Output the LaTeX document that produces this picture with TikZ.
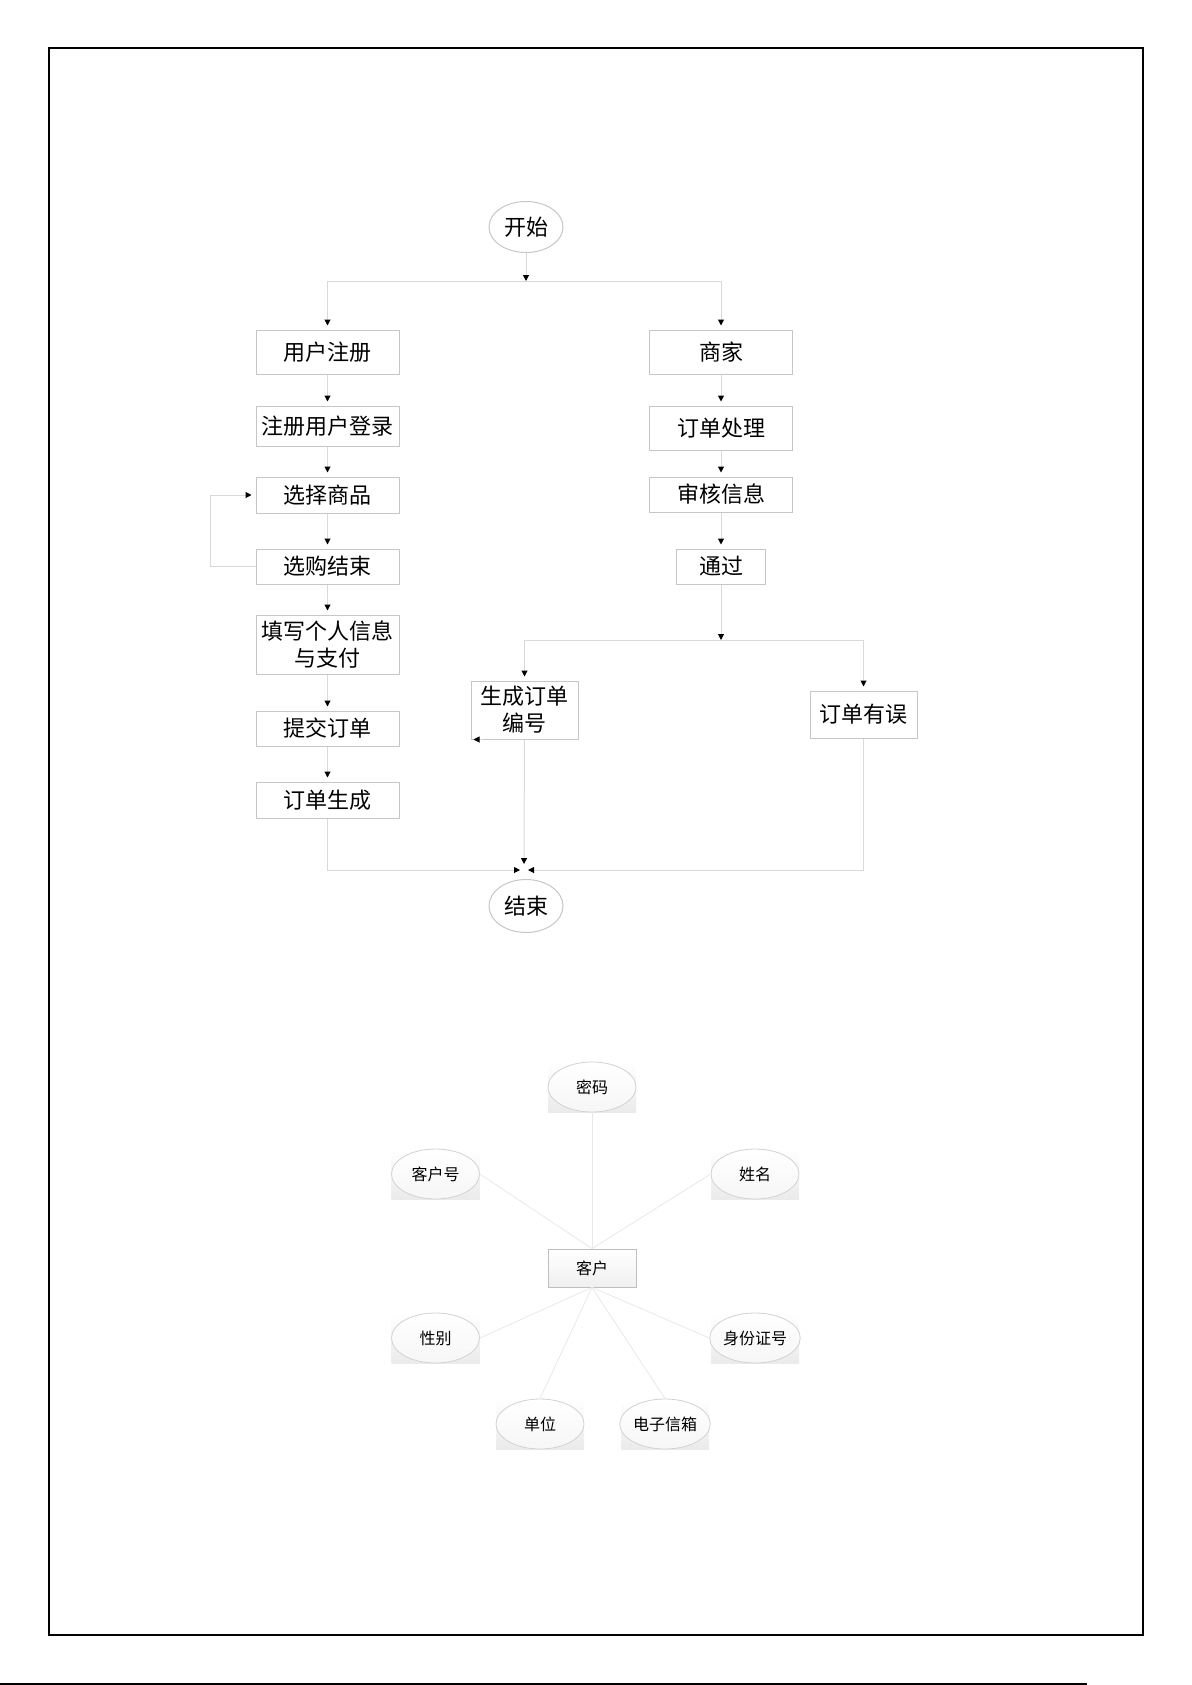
\documentclass[tikz,border=0pt]{standalone}
\usepackage{fontspec}
\newfontfamily\cjk{Noto Sans CJK SC}
\usepackage{tikz}
\usetikzlibrary{arrows.meta,shapes.geometric}

\begin{document}
\begin{tikzpicture}[x=0.5pt,y=-0.5pt,
  proc/.style={shape=rectangle,draw=gray!45,line width=0.5pt,minimum width=71.5pt,inner sep=1pt,align=center,font=\cjk\fontsize{11}{13.5}\selectfont},
  term/.style={shape=ellipse,draw=gray!45,line width=0.5pt,minimum width=37pt,inner sep=0pt,font=\cjk\fontsize{11}{13}\selectfont},
  flow/.style={draw=gray!30,line width=0.5pt,-{Triangle[color=black,length=3pt,width=3pt]},shorten >=2pt},
  attr/.style={shape=ellipse,draw=gray!35,line width=0.4pt,minimum width=44pt,minimum height=25pt,inner sep=0pt,top color=white,bottom color=gray!7,font=\cjk\fontsize{8}{10}\selectfont},
  attrbg/.style={shape=rectangle,minimum width=44pt,minimum height=25pt,inner sep=0pt,top color=white,bottom color=gray!16},
  ent/.style={shape=rectangle,draw=gray!50,line width=0.4pt,minimum width=44pt,minimum height=19pt,inner sep=0pt,top color=white,bottom color=gray!12,font=\cjk\fontsize{8}{10}\selectfont},
  erline/.style={draw=gray!18,line width=0.4pt}]
\useasboundingbox (0,0) rectangle (1192,1685);
\draw [line width=1pt] (48.5,48.5) rectangle (1142.5,1635);
\draw [line width=1pt] (0,1684) -- (1087,1684);

% flow chart
\path (526,227) node (start) [term,minimum height=25.5pt] {开始};
\coordinate (split) at (526,281);
\path (327.5,352) node (reg) [proc,minimum height=22pt] {用户注册};
\path (327.5,426) node (login) [proc,minimum height=20pt] {注册用户登录};
\path (327.5,495) node (select) [proc,minimum height=18pt] {选择商品};
\path (327.5,566.5) node (done) [proc,minimum height=17.5pt] {选购结束};
\path (327.5,644.5) node (fill) [proc,minimum height=29.5pt] {填写个人信息\\与支付};
\path (327.5,728.5) node (submit) [proc,minimum height=17.5pt] {提交订单};
\path (327.5,800) node (created) [proc,minimum height=18pt] {订单生成};
\path (721,352) node (shop) [proc,minimum height=22pt] {商家};
\path (721,428) node (handle) [proc,minimum height=22pt] {订单处理};
\path (721,494.5) node (check) [proc,minimum height=17.5pt] {审核信息};
\path (721,566.5) node (pass) [proc,minimum width=44.5pt,minimum height=17.5pt] {通过};
\coordinate (split2) at (721,640);
\path (524.5,710) node (gen) [proc,minimum width=53.5pt,minimum height=29pt] {生成订单\\编号};
\path (863.5,714.5) node (err) [proc,minimum width=53.5pt,minimum height=23.5pt] {订单有误};
\coordinate (merge) at (524,870);
\path (526,906) node (stop) [term,minimum height=26.5pt] {结束};

\draw [flow,shorten >=0pt] (start) to (split);
\draw [flow] (split) -| (reg);
\draw [flow] (split) -| (shop);
\draw [flow] (reg) to (login);
\draw [flow] (login) to (select);
\draw [flow] (select) to (done);
\draw [flow] (done.west) -- ++(-45,0) |- (select.west);
\draw [flow] (done) to (fill);
\draw [flow] (fill) to (submit);
\draw [flow] (submit) to (created);
\draw [flow] (shop) to (handle);
\draw [flow] (handle) to (check);
\draw [flow] (check) to (pass);
\draw [flow,shorten >=0pt] (pass) to (split2);
\draw [flow] (split2) -| (gen);
\draw [flow] (split2) -| (err);
\draw [flow,shorten >=0pt] ([xshift=6pt]gen.south west) -- ([xshift=1.5pt]gen.south west);
\draw [flow,shorten >=3pt] (gen) to (merge);
\draw [flow] (created) |- (merge);
\draw [flow] (err) |- (merge);

% E-R diagram
\path (592,1087) node (pwdbg) [attrbg] {};
\path (592,1087) node (pwd) [attr] {密码};
\path (435.5,1174) node (cnobg) [attrbg] {};
\path (435.5,1174) node (cno) [attr] {客户号};
\path (755,1174) node (namebg) [attrbg] {};
\path (755,1174) node (name) [attr] {姓名};
\path (592,1268) node (cust) [ent] {客户};
\path (435.5,1338) node (sexbg) [attrbg] {};
\path (435.5,1338) node (sex) [attr] {性别};
\path (755,1338) node (idnobg) [attrbg] {};
\path (755,1338) node (idno) [attr] {身份证号};
\path (540,1424) node (unitbg) [attrbg] {};
\path (540,1424) node (unit) [attr] {单位};
\path (665,1424) node (mailbg) [attrbg] {};
\path (665,1424) node (mail) [attr] {电子信箱};

\draw [erline] (pwd) to (cust);
\draw [erline] (cno.east) to (cust.north);
\draw [erline] (name.west) to (cust.north);
\draw [erline] (cust.south) to (sex.east);
\draw [erline] (cust.south) to (unit.north);
\draw [erline] (cust.south) to (mail.north);
\draw [erline] (cust.south) to (idno.west);
\end{tikzpicture}
\end{document}
